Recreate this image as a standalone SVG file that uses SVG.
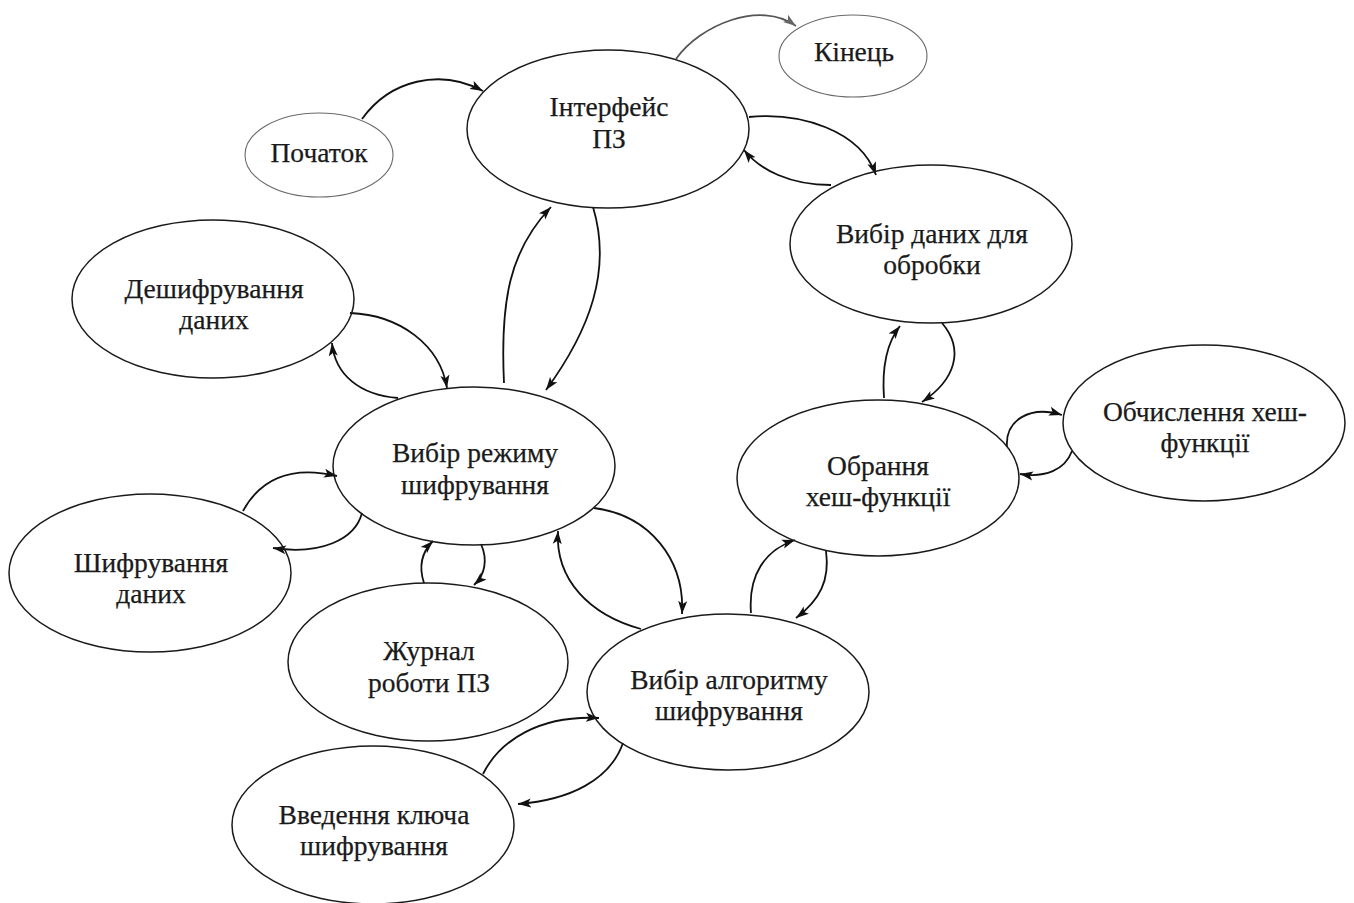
<svg xmlns="http://www.w3.org/2000/svg" width="1354" height="903" viewBox="0 0 1354 903">
<style>
.n ellipse{fill:none;stroke:#1a1a1a;stroke-width:1.5}
.n.thin ellipse{stroke:#6a6a6a;stroke-width:1.1}
text{font-family:"Liberation Serif","Times New Roman",serif;font-size:27.5px;fill:#1a1a1a;stroke:#1a1a1a;stroke-width:0.25;text-anchor:middle}
.c path{fill:none;stroke:#111;stroke-width:1.8}
.c path.g{stroke:#555}
</style>
<defs>
<marker id="a" markerUnits="userSpaceOnUse" markerWidth="14" markerHeight="10" refX="13" refY="5" orient="auto">
<path d="M0,0.5 L13,5 L0,9.5 L3,5 z" fill="#111"/>
</marker>
<marker id="ag" markerUnits="userSpaceOnUse" markerWidth="14" markerHeight="10" refX="13" refY="5" orient="auto">
<path d="M0,0.5 L13,5 L0,9.5 L3,5 z" fill="#666"/>
</marker>
</defs>
<rect width="1354" height="903" fill="#fff"/>
<g id="connectors" class="c">
<path d="M362,119 C390,80 440,68 483,91" marker-end="url(#a)"/>
<path class="g" d="M676,59 C700,25 760,0 796,26" marker-end="url(#ag)"/>
<path d="M749,117 C800,112 860,130 876,175" marker-end="url(#a)"/>
<path d="M831,185 C790,185 760,170 744,150" marker-end="url(#a)"/>
<path d="M593,207 C612,270 590,330 546,390" marker-end="url(#a)"/>
<path d="M504,383 C500,300 510,250 551,207" marker-end="url(#a)"/>
<path d="M942,323 C965,350 955,380 922,402" marker-end="url(#a)"/>
<path d="M884,398 C882,370 885,345 900,326" marker-end="url(#a)"/>
<path d="M1007,447 C1005,420 1030,405 1062,415" marker-end="url(#a)"/>
<path d="M1072,451 C1065,470 1045,478 1020,474" marker-end="url(#a)"/>
<path d="M350,313 C400,315 440,345 447,388" marker-end="url(#a)"/>
<path d="M398,398 C360,395 335,375 332,343" marker-end="url(#a)"/>
<path d="M243,511 C260,480 290,465 337,476" marker-end="url(#a)"/>
<path d="M362,513 C355,540 320,555 273,548" marker-end="url(#a)"/>
<path d="M424,583 C418,565 422,552 433,541" marker-end="url(#a)"/>
<path d="M481,544 C488,560 485,575 474,585" marker-end="url(#a)"/>
<path d="M594,508 C650,515 685,560 682,614" marker-end="url(#a)"/>
<path d="M641,629 C590,615 555,580 558,531" marker-end="url(#a)"/>
<path d="M751,613 C748,575 765,550 795,540" marker-end="url(#a)"/>
<path d="M826,551 C830,580 820,600 796,618" marker-end="url(#a)"/>
<path d="M483,774 C500,740 540,715 599,718" marker-end="url(#a)"/>
<path d="M623,743 C610,780 570,800 518,804" marker-end="url(#a)"/>
</g>
<g id="start" class="n thin"><ellipse cx="319" cy="155" rx="74" ry="42"/><text x="319" y="162">Початок</text></g>
<g id="end" class="n thin"><ellipse cx="853" cy="56" rx="74" ry="41"/><text x="854" y="61">Кінець</text></g>
<g id="interface" class="n"><ellipse cx="608" cy="129" rx="141" ry="79"/><text x="609" y="116">Інтерфейс</text><text x="609" y="148">ПЗ</text></g>
<g id="decrypt" class="n"><ellipse cx="213" cy="299" rx="141" ry="79"/><text x="214" y="298">Дешифрування</text><text x="214" y="329">даних</text></g>
<g id="data-select" class="n"><ellipse cx="931" cy="244" rx="141" ry="79"/><text x="932" y="243">Вибір даних для</text><text x="932" y="274">обробки</text></g>
<g id="mode-select" class="n"><ellipse cx="474" cy="466" rx="141" ry="79"/><text x="475" y="462">Вибір режиму</text><text x="475" y="494">шифрування</text></g>
<g id="hash-select" class="n"><ellipse cx="878" cy="478" rx="141" ry="78"/><text x="878" y="475">Обрання</text><text x="878" y="506">хеш-функції</text></g>
<g id="hash-calc" class="n"><ellipse cx="1204" cy="423" rx="141" ry="78"/><text x="1205" y="421">Обчислення хеш-</text><text x="1205" y="452">функції</text></g>
<g id="encrypt" class="n"><ellipse cx="150" cy="573" rx="141" ry="79"/><text x="151" y="572">Шифрування</text><text x="151" y="603">даних</text></g>
<g id="log" class="n"><ellipse cx="428" cy="662" rx="140" ry="79"/><text x="429" y="660">Журнал</text><text x="429" y="692">роботи ПЗ</text></g>
<g id="algo-select" class="n"><ellipse cx="728" cy="692" rx="141" ry="78"/><text x="729" y="689">Вибір алгоритму</text><text x="729" y="720">шифрування</text></g>
<g id="key-input" class="n"><ellipse cx="373" cy="825" rx="141" ry="79"/><text x="374" y="824">Введення ключа</text><text x="374" y="855">шифрування</text></g>
</svg>
